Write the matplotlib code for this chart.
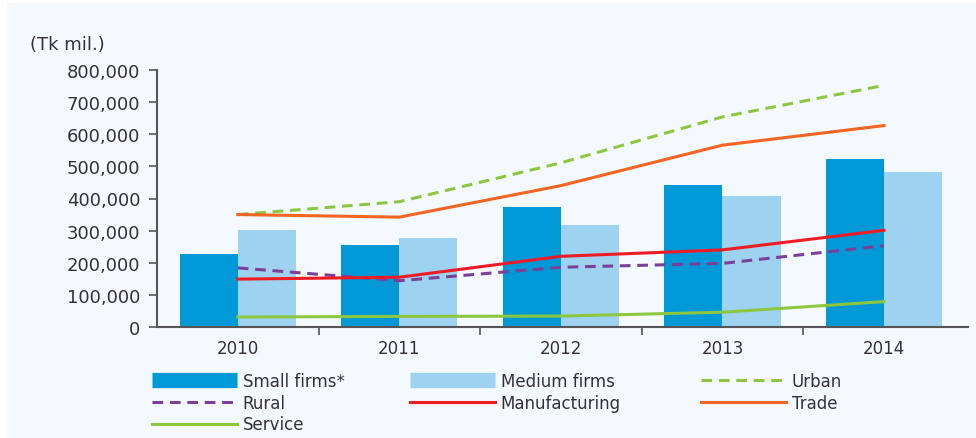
import numpy as np
import matplotlib
matplotlib.use("Agg")
import matplotlib.pyplot as plt
from matplotlib.patches import Rectangle
from matplotlib.lines import Line2D
from matplotlib.ticker import FuncFormatter

# -----------------------------------------------------------------------------
# DATA (Tk mil.)
# -----------------------------------------------------------------------------
years = ["2010", "2011", "2012", "2013", "2014"]
small_firms = [227000, 256000, 375000, 441000, 524000]
medium_firms = [302000, 276000, 317000, 407000, 482000]
urban = [350000, 390000, 511000, 654000, 752000]
rural = [184000, 144000, 186000, 198000, 253000]
manufacturing = [149000, 155000, 220000, 240000, 301000]
trade = [350000, 342000, 440000, 566000, 627000]
service = [31000, 33000, 34000, 46000, 79000]

# -----------------------------------------------------------------------------
# COLOURS
# -----------------------------------------------------------------------------
_BG = "#f4f9fd"
_TEXT = "#33303c"
_AXIS = "#555555"
_SMALL = "#0099d8"
_MEDIUM = "#9dd3f0"
_URBAN = "#8dc63f"
_RURAL = "#7b3f98"
_MANUF = "#ed1c24"
_TRADE = "#f26522"
_SERVICE = "#8dc63f"

plt.rcParams.update({
    "font.family": "DejaVu Sans",
    "text.color": _TEXT,
    "xtick.color": _TEXT,
    "ytick.color": _TEXT,
})

fig = plt.figure(figsize=(9.76, 4.39), dpi=100, facecolor="white")
fig.patches.append(Rectangle((7 / 976, 0), 1, 1 - 4 / 439,
                             transform=fig.transFigure, facecolor=_BG,
                             edgecolor="none", zorder=-5))

ax = fig.add_axes([157 / 976, 1 - 328 / 439, (968 - 157) / 976, (328 - 71) / 439])
ax.set_facecolor("none")
ax.set_zorder(2)

x = np.arange(len(years))
w = 0.36

# -- Bars ---------------------------------------------------------------------
ax.bar(x - w / 2, small_firms, w, color=_SMALL, zorder=2)
ax.bar(x + w / 2, medium_firms, w, color=_MEDIUM, zorder=2)

# -- Lines --------------------------------------------------------------------
lw = 2.2
ax.plot(x, urban, color=_URBAN, lw=lw, dashes=(3.5, 2.2), zorder=4)
ax.plot(x, rural, color=_RURAL, lw=lw, dashes=(3.5, 2.2), zorder=4)
ax.plot(x, manufacturing, color=_MANUF, lw=lw, zorder=4)
ax.plot(x, trade, color=_TRADE, lw=lw, zorder=4)
ax.plot(x, service, color=_SERVICE, lw=lw, zorder=3)

# -- Axes ---------------------------------------------------------------------
ax.set_xlim(-0.5, 4.52)
ax.set_ylim(0, 800000)
ax.set_yticks(np.arange(0, 800001, 100000))
ax.yaxis.set_major_formatter(FuncFormatter(lambda v, p: f"{int(v):,}"))
ax.set_xticks(np.arange(0.5, 4, 1))
ax.set_xticklabels([])
ax.set_xticks(x, minor=True)
ax.set_xticklabels(years, minor=True)
ax.tick_params(axis="x", which="major", length=6, width=1.2, color=_AXIS,
               direction="out")
ax.tick_params(axis="x", which="minor", length=0, pad=9, labelsize=12)
ax.tick_params(axis="y", length=6, width=1.2, color=_AXIS, labelsize=13,
               pad=6)
for s in ["top", "right"]:
    ax.spines[s].set_visible(False)
for s in ["left", "bottom"]:
    ax.spines[s].set_color(_AXIS)
    ax.spines[s].set_linewidth(1.5)

fig.text(30 / 976, 1 - 45 / 439, "(Tk mil.)", fontsize=13, va="center",
         ha="left", color=_TEXT)

# -- Legend (three columns placed by hand) -----------------------------------
def _bar_handle(c):
    return Line2D([], [], color=c, lw=11, solid_capstyle="butt")

def _line_handle(c, dashed=False):
    if dashed:
        return Line2D([], [], color=c, lw=lw, dashes=(3.5, 2.2))
    return Line2D([], [], color=c, lw=lw)

columns = [
    (152, [(_bar_handle(_SMALL), "Small firms*"),
           (_line_handle(_RURAL, True), "Rural"),
           (_line_handle(_SERVICE), "Service")]),
    (410, [(_bar_handle(_MEDIUM), "Medium firms"),
           (_line_handle(_MANUF), "Manufacturing")]),
    (701, [(_line_handle(_URBAN, True), "Urban"),
           (_line_handle(_TRADE), "Trade")]),
]
for xpx, items in columns:
    handles = [h for h, _ in items]
    labels = [l for _, l in items]
    leg = fig.legend(handles, labels, loc="upper left",
                     bbox_to_anchor=(xpx / 976, 1 - 373 / 439),
                     frameon=False, fontsize=12, handlelength=5.1,
                     handletextpad=0.35, labelspacing=0.22,
                     borderpad=0, borderaxespad=0)
    for t in leg.get_texts():
        t.set_color(_TEXT)

fig.savefig("out.png", dpi=100, facecolor=fig.get_facecolor())
